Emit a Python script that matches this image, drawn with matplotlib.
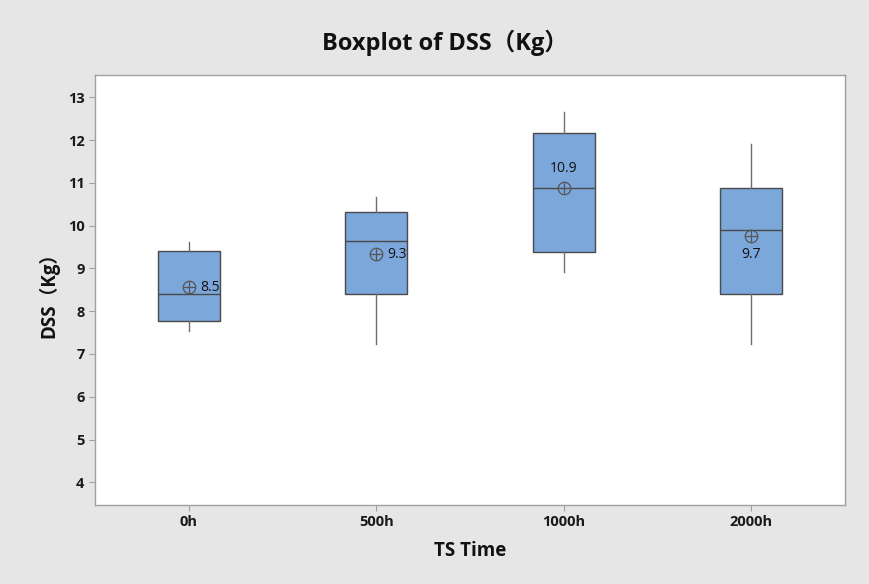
import matplotlib
matplotlib.use("Agg")
import matplotlib.pyplot as plt

plt.rcParams['font.family'] = ['Open Sans', 'Noto Sans CJK SC', 'DejaVu Sans']

groups = ["0h", "500h", "1000h", "2000h"]
whisker_low = [7.54, 7.23, 8.92, 7.23]
q1 = [7.77, 8.41, 9.39, 8.40]
median = [8.40, 9.65, 10.89, 9.89]
q3 = [9.41, 10.31, 12.17, 10.88]
whisker_high = [9.61, 10.66, 12.66, 11.90]
means = [8.56, 9.33, 10.89, 9.75]
mean_labels = ["8.5", "9.3", "10.9", "9.7"]

box_fill = "#7BA7DA"
bg = "#E6E6E6"

fig = plt.figure(figsize=(8.7, 5.84), dpi=100)
fig.patch.set_facecolor(bg)
ax = fig.add_axes([95 / 870, 1 - 505 / 584, 750 / 870, 430 / 584])
ax.set_facecolor("white")

stats = []
for i, g in enumerate(groups):
    stats.append({"label": g, "whislo": whisker_low[i], "q1": q1[i], "med": median[i],
                  "q3": q3[i], "whishi": whisker_high[i], "mean": means[i], "fliers": []})

pos = list(range(1, len(groups) + 1))
ax.bxp(stats, positions=pos, widths=0.33, patch_artist=True, showcaps=False,
       boxprops=dict(facecolor=box_fill, edgecolor="#4a4a4a", linewidth=1.0),
       medianprops=dict(color="#4a4a4a", linewidth=1.0),
       whiskerprops=dict(color="#6e6e6e", linewidth=1.0))

# mean symbol: circle with a cross
ax.plot(pos, means, linestyle="none", marker="o", markersize=9, markerfacecolor="none",
        markeredgecolor="#555555", markeredgewidth=0.9, zorder=5)
ax.plot(pos, means, linestyle="none", marker="+", markersize=9, color="#555555",
        markeredgewidth=0.9, zorder=5)

# mean labels (placed like Minitab does)
offsets = [(8, 0, "left", "center"), (8, 0, "left", "center"),
           (0, 8, "center", "bottom"), (0, -8, "center", "top")]
for p, m, lab, (dx, dy, ha, va) in zip(pos, means, mean_labels, offsets):
    ax.annotate(lab, (p, m), xytext=(dx, dy), textcoords="offset points",
                ha=ha, va=va, fontsize=10, color="#111111")

ax.set_xlim(0.5, 4.5)
ax.set_ylim(3.47, 13.52)
ax.set_yticks(range(4, 14))
ax.set_xticks(pos)
ax.set_xticklabels(groups)

for s in ax.spines.values():
    s.set_color("#a0a0a0")
    s.set_linewidth(1.0)
ax.tick_params(axis="both", colors="#a0a0a0", labelcolor="#1a1a1a", length=4, labelsize=10.5)
for t in ax.get_xticklabels() + ax.get_yticklabels():
    t.set_fontweight("bold")

ax.set_xlabel("TS Time", fontsize=13.5, fontweight="bold", color="#111111", labelpad=8)
ax.set_ylabel("DSS（Kg）", fontsize=13.5, fontweight="bold", color="#111111", labelpad=6)

fig.text(445 / 870, 1 - 43 / 584, "Boxplot of DSS（Kg）", ha="center", va="center",
         fontsize=17, fontweight="bold", color="#111111")

fig.savefig("out.png", dpi=100, facecolor=bg)
